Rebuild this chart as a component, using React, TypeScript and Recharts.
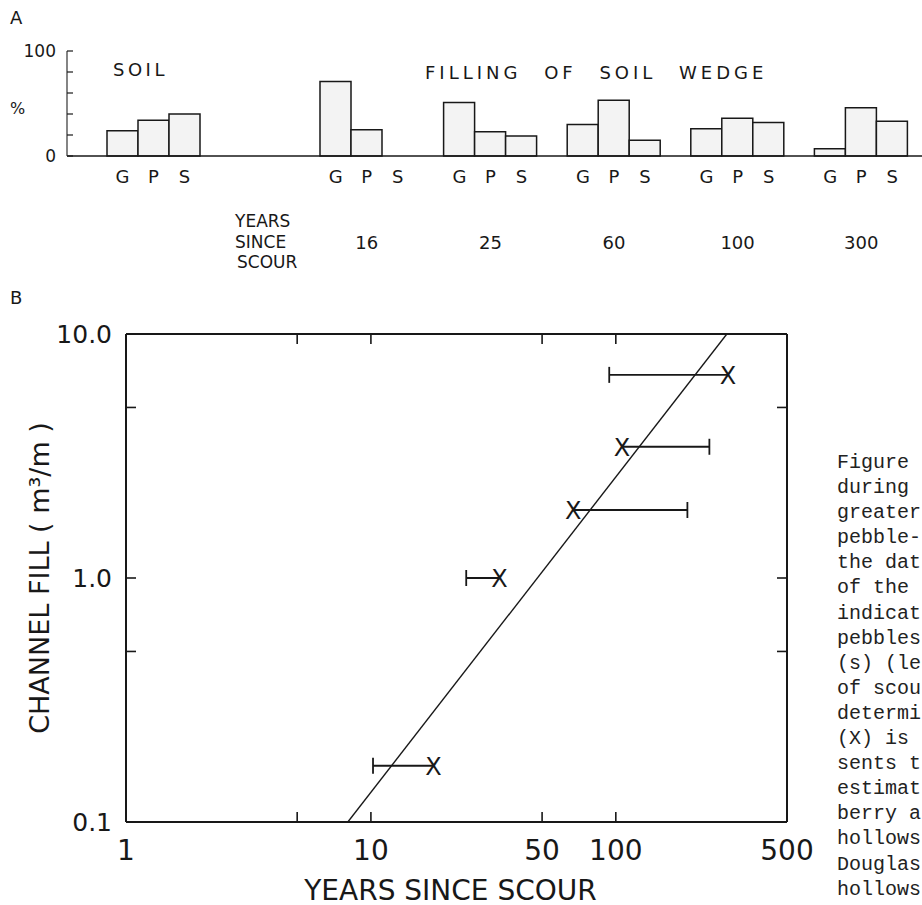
import React from "react";
import { BarChart, Bar, ScatterChart, Scatter, XAxis, YAxis } from "recharts";

// A: grain size make-up (%) of the soil and of the wedge fill
const gpsLetters = ["G", "P", "S"];
const soilGroup = "SOIL";
const soilShares = [24, 34, 40];
const wedgeAges = ["16", "25", "60", "100", "300"];
const wedgeGravel = [71, 51, 30, 26, 7];
const wedgePebble = [25, 23, 53, 36, 46];
const wedgeSand = [0, 19, 15, 32, 33];
const percentTicks = [0, 20, 40, 60, 80, 100];

// B: channel fill against years since scour
const fillVolumes = [0.17, 1.0, 1.9, 3.45, 6.8];
const markYears = [18, 33.5, 67, 106, 287];
const rangeEndYears = [10.2, 24.5, 196, 241, 94];
const fitYears = [8.05, 284];
const fitVolumes = [0.1, 10];
const yearTicks = [1, 5, 10, 50, 100, 500];
const yearLabels = ["1", "", "10", "50", "100", "500"];
const volumeTicks = [0.1, 0.5, 1, 5, 10];
const volumeLabels = ["0.1", "", "1.0", "", "10.0"];

const captionLines = [
  "Figure", "during", "greater", "pebble-", "the dat", "of the",
  "indicat", "pebbles", "(s) (le", "of scou", "determi", "(X) is",
  "sents t", "estimat", "berry a", "hollows", "Douglas", "hollows",
];

const ink = "#181818";
const font = "'DejaVu Sans', sans-serif";

const soilData = [{ group: soilGroup, g: soilShares[0], p: soilShares[1], s: soilShares[2] }];
const wedgeData = wedgeAges.map((age, i) => ({ group: age, g: wedgeGravel[i], p: wedgePebble[i], s: wedgeSand[i] }));

const ranges = fillVolumes.map((v, i) => [
  { years: markYears[i], volume: v, kind: "mark" },
  { years: rangeEndYears[i], volume: v, kind: "cap" },
]);
const fitData = fitYears.map((years, i) => ({ years, volume: fitVolumes[i] }));

const BAR = 31;

function GpsTick({ x, y, payload, showAge }: any) {
  return (
    <g>
      {gpsLetters.map((l, i) => (
        <text key={l} x={x + (i - 1) * BAR} y={y + 20} textAnchor="middle" dominantBaseline="central"
          fontSize={18} fill={ink} fontFamily={font}>{l}</text>
      ))}
      {showAge && (
        <text x={x} y={y + 86} textAnchor="middle" dominantBaseline="central" fontSize={18} fill={ink} fontFamily={font}>
          {payload.value}
        </text>
      )}
    </g>
  );
}

function PercentTick({ x, y, payload }: any) {
  const v = payload.value;
  return (
    <g>
      <line x1={x} y1={y} x2={x + 6} y2={y} stroke={ink} strokeWidth={1.2} />
      {(v === 0 || v === 100) && (
        <text x={x - 11} y={y} textAnchor="end" dominantBaseline="central" fontSize={17} fill={ink} fontFamily={font}>{v}</text>
      )}
    </g>
  );
}

function BottomTick({ x, y, payload }: any) {
  const label = yearLabels[yearTicks.indexOf(payload.value)];
  return (
    <g>
      <line x1={x} y1={y} x2={x} y2={y - 10} stroke={ink} strokeWidth={1.6} />
      {label ? (
        <text x={x} y={y + 28} textAnchor="middle" dominantBaseline="central" fontSize={28} fill={ink} fontFamily={font}>{label}</text>
      ) : null}
    </g>
  );
}

function TopTick({ x, y }: any) {
  return <line x1={x} y1={y} x2={x} y2={y + 10} stroke={ink} strokeWidth={1.6} />;
}

function LeftTick({ x, y, payload }: any) {
  const label = volumeLabels[volumeTicks.indexOf(payload.value)];
  return (
    <g>
      <line x1={x} y1={y} x2={x + 10} y2={y} stroke={ink} strokeWidth={1.6} />
      {label ? (
        <text x={x - 14} y={y} textAnchor="end" dominantBaseline="central" fontSize={25} fill={ink} fontFamily={font}>{label}</text>
      ) : null}
    </g>
  );
}

function RightTick({ x, y }: any) {
  return <line x1={x} y1={y} x2={x - 10} y2={y} stroke={ink} strokeWidth={1.6} />;
}

function RangeShape({ cx, cy, payload }: any) {
  if (payload.kind === "cap") {
    return <line x1={cx} y1={cy - 8} x2={cx} y2={cy + 8} stroke={ink} strokeWidth={1.8} />;
  }
  return (
    <text x={cx} y={cy + 1} textAnchor="middle" dominantBaseline="central" fontSize={24} fill={ink} fontFamily={font}>X</text>
  );
}

export default function App() {
  return (
    <div style={{ position: "absolute", left: 0, top: 0, width: 922, height: 905, overflow: "hidden", background: "#fff", fontFamily: font }}>
      {/* A – soil */}
      <div style={{ position: "absolute", left: 0, top: 0 }}>
        <BarChart width={305} height={290} data={soilData} margin={{ top: 51, left: 7, right: 0, bottom: 34 }} barGap={0}>
          <XAxis dataKey="group" height={100} padding={{ left: 0, right: 65 }} tickSize={0} tickMargin={0}
            axisLine={{ stroke: ink, strokeWidth: 1.5 }} tickLine={false} interval={0}
            tick={(p: any) => <GpsTick {...p} showAge={false} />} />
          <YAxis width={60} domain={[0, 100]} ticks={percentTicks} tickSize={0} tickMargin={0} interval={0}
            axisLine={{ stroke: "#333", strokeWidth: 1.2 }} tickLine={false} tick={(p: any) => <PercentTick {...p} />} />
          <Bar dataKey="g" barSize={BAR} fill="#f3f3f3" stroke={ink} strokeWidth={1.5} isAnimationActive={false} />
          <Bar dataKey="p" barSize={BAR} fill="#f3f3f3" stroke={ink} strokeWidth={1.5} isAnimationActive={false} />
          <Bar dataKey="s" barSize={BAR} fill="#f3f3f3" stroke={ink} strokeWidth={1.5} isAnimationActive={false} />
        </BarChart>
      </div>

      {/* A – filling of soil wedge */}
      <div style={{ position: "absolute", left: 305, top: 0 }}>
        <BarChart width={618} height={290} data={wedgeData} margin={{ top: 51, left: 0, right: 0, bottom: 34 }} barGap={0}>
          <XAxis dataKey="group" height={100} tickSize={0} tickMargin={0} interval={0}
            axisLine={{ stroke: ink, strokeWidth: 1.5 }} tickLine={false}
            tick={(p: any) => <GpsTick {...p} showAge />} />
          <YAxis hide domain={[0, 100]} />
          <Bar dataKey="g" barSize={BAR} fill="#f3f3f3" stroke={ink} strokeWidth={1.5} isAnimationActive={false} />
          <Bar dataKey="p" barSize={BAR} fill="#f3f3f3" stroke={ink} strokeWidth={1.5} isAnimationActive={false} />
          <Bar dataKey="s" barSize={BAR} fill="#f3f3f3" stroke={ink} strokeWidth={1.5} isAnimationActive={false} />
        </BarChart>
      </div>

      {/* B */}
      <div style={{ position: "absolute", left: 0, top: 290 }}>
        <ScatterChart width={830} height={615} margin={{ top: 34, left: 66, right: 33, bottom: 3 }}>
          <XAxis dataKey="years" type="number" scale="log" domain={[1, 500]} allowDataOverflow ticks={yearTicks}
            height={80} tickSize={0} tickMargin={0} interval={0} tickLine={false}
            axisLine={{ stroke: ink, strokeWidth: 2 }} tick={(p: any) => <BottomTick {...p} />}
            label={{
              content: ({ viewBox }: any) => (
                <text x={viewBox.x + viewBox.width / 2 - 6} y={viewBox.y + 68} textAnchor="middle" dominantBaseline="central"
                  fontSize={28} fill={ink} fontFamily={font}>YEARS SINCE SCOUR</text>
              ),
            }} />
          <XAxis xAxisId="top" orientation="top" dataKey="years" type="number" scale="log" domain={[1, 500]} allowDataOverflow
            ticks={yearTicks} height={10} tickSize={0} tickMargin={0} interval={0} tickLine={false}
            axisLine={{ stroke: ink, strokeWidth: 2 }} tick={(p: any) => <TopTick {...p} />} />
          <YAxis dataKey="volume" type="number" scale="log" domain={[0.1, 10]} allowDataOverflow ticks={volumeTicks}
            width={60} tickSize={0} tickMargin={0} interval={0} tickLine={false}
            axisLine={{ stroke: ink, strokeWidth: 2 }} tick={(p: any) => <LeftTick {...p} />}
            label={{
              content: ({ viewBox }: any) => {
                const cx = viewBox.x - 27;
                const cy = viewBox.y + viewBox.height / 2;
                return (
                  <text x={cx} y={cy} transform={`rotate(-90 ${cx} ${cy})`} textAnchor="middle" dominantBaseline="central"
                    fontSize={27} fill={ink} fontFamily={font}>CHANNEL FILL ( m³/m )</text>
                );
              },
            }} />
          <YAxis yAxisId="right" orientation="right" dataKey="volume" type="number" scale="log" domain={[0.1, 10]}
            allowDataOverflow ticks={volumeTicks} width={10} tickSize={0} tickMargin={0} interval={0} tickLine={false}
            axisLine={{ stroke: ink, strokeWidth: 2 }} tick={(p: any) => <RightTick {...p} />} />
          <Scatter data={fitData} line={{ stroke: ink, strokeWidth: 1.4 }} shape={() => <g />} isAnimationActive={false} />
          {ranges.map((d, i) => (
            <Scatter key={i} data={d} line={{ stroke: ink, strokeWidth: 1.8 }} shape={(p: any) => <RangeShape {...p} />}
              isAnimationActive={false} />
          ))}
        </ScatterChart>
      </div>

      {/* panel captions */}
      <svg width={922} height={905} style={{ position: "absolute", left: 0, top: 0, pointerEvents: "none" }}>
        <g fill={ink} fontFamily={font} dominantBaseline="central">
          <text x={10} y={17} fontSize={18}>A</text>
          <text x={10} y={297} fontSize={18}>B</text>
          <text x={10} y={108} fontSize={16}>%</text>
          <text x={113} y={69} fontSize={18} letterSpacing={3.5}>SOIL</text>
          <text x={425} y={72} fontSize={18} letterSpacing={4} wordSpacing={13}>FILLING OF SOIL WEDGE</text>
          <text x={235} y={221} fontSize={17}>YEARS</text>
          <text x={235} y={242} fontSize={17}>SINCE</text>
          <text x={237} y={262} fontSize={17}>SCOUR</text>
        </g>
      </svg>

      <div style={{
        position: "absolute", left: 837, top: 450, fontFamily: "'Liberation Mono', monospace", fontSize: 20,
        lineHeight: "25.1px", whiteSpace: "pre", color: "#222",
      }}>
        {captionLines.map((l, i) => <div key={i}>{l}</div>)}
      </div>
    </div>
  );
}
